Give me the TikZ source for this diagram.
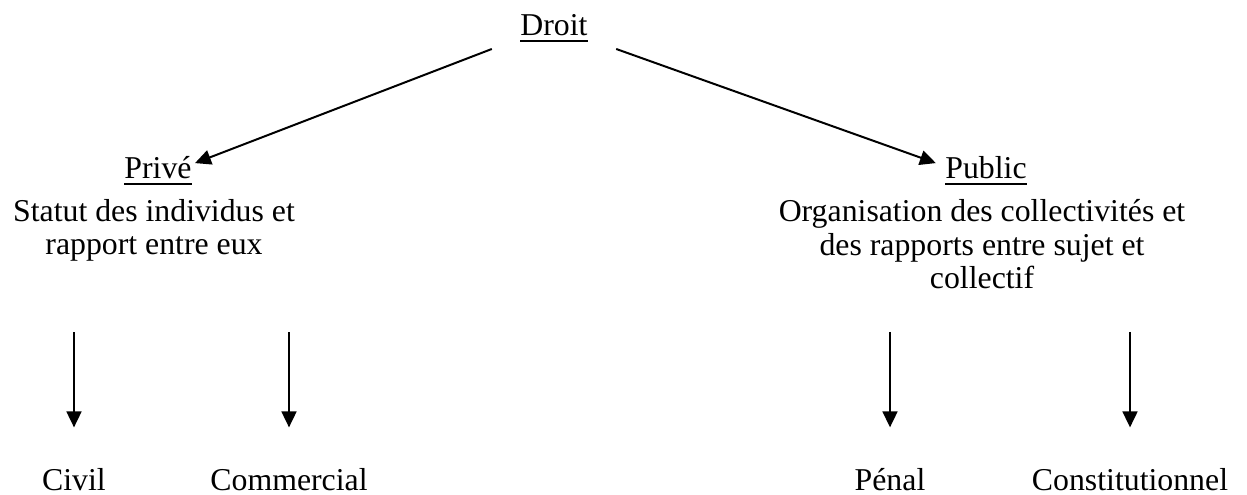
\documentclass[tikz,border=0pt]{standalone}
\usepackage{fontspec}
\setmainfont{Liberation Serif}
\usetikzlibrary{arrows.meta, positioning}
\newcommand{\souligne}[1]{\sbox0{#1}\rlap{\rule[-2.2pt]{\wd0}{0.75pt}}\usebox0}

\begin{document}
\begin{tikzpicture}[x=0.3774pt, y=-0.3774pt,
  txt/.style={inner sep=0pt, anchor=base, font=\fontsize{12pt}{12.8pt}\selectfont},
  bloc/.style={txt, align=center},
  fleche/.style={-{Triangle[length=6pt, width=5.6pt]}, line width=0.75pt}
]
  \useasboundingbox (0,0) rectangle (1247,495);
  % racine et branches
  \node[txt] (droit) at (554,36) {\souligne{Droit}};
  \node[txt] (prive) at (158,179) {\souligne{Privé}};
  \node[txt] (public) at (986,179) {\souligne{Public}};
  % (base = derniere ligne)
  \node[bloc] (statut) at (154,255) {Statut des individus et\\rapport entre eux};
  \node[bloc] (orga) at (982,289) {Organisation des collectivités et\\des rapports entre sujet et\\collectif};
  % feuilles
  \node[txt] (civil) at (74,490) {Civil};
  \node[txt] (commercial) at (289,490) {Commercial};
  \node[txt] (penal) at (890,490) {Pénal};
  \node[txt] (constit) at (1130,490) {Constitutionnel};
  \draw[fleche] ([shift={(-10.6pt,-4.9pt)}]droit.base west) -- ([shift={(1.1pt,6pt)}]prive.base east);
  \draw[fleche] ([shift={(10.6pt,-4.9pt)}]droit.base east) -- ([shift={(-3.4pt,6pt)}]public.base west);
  \draw[fleche, shorten <=26.4pt, shorten >=15.1pt] (statut.south -| civil.north) -- (civil.north);
  \draw[fleche, shorten <=26.4pt, shorten >=15.1pt] (statut.south -| commercial.north) -- (commercial.north);
  \draw[fleche, shorten <=15.9pt, shorten >=15.1pt] (orga.south -| penal.north) -- (penal.north);
  \draw[fleche, shorten <=15.9pt, shorten >=15.1pt] (orga.south -| constit.north) -- (constit.north);
\end{tikzpicture}
\end{document}
